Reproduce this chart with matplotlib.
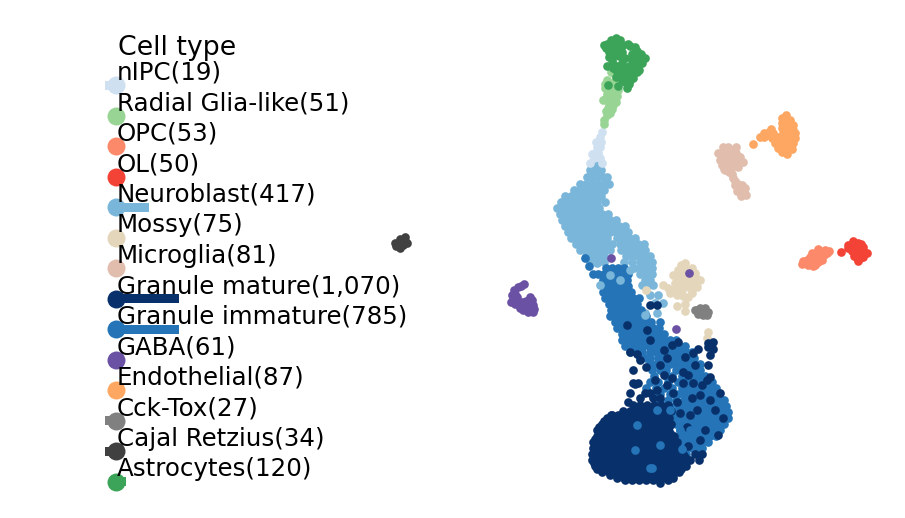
import matplotlib
matplotlib.use("Agg")
import matplotlib.pyplot as plt

cell_types = ["nIPC", "Radial Glia-like", "OPC", "OL", "Neuroblast", "Mossy", "Microglia",
              "Granule mature", "Granule immature", "GABA", "Endothelial", "Cck-Tox",
              "Cajal Retzius", "Astrocytes"]
cell_counts = [19, 51, 53, 50, 417, 75, 81, 1070, 785, 61, 87, 27, 34, 120]
cell_colors = ["#cfe0f1", "#98d594", "#fc8a6a", "#f34336", "#7ab6d9", "#e4d6bb", "#e0bdad",
               "#08306b", "#2474b7", "#6a51a3", "#fda762", "#808080", "#404040", "#3ba458"]

# embedding, x to the right, y downwards
astrocytes = [(607,44),(611,40),(616,38),(620,40),(606,48),(610,45),(615,44),(619,46),(623,45),(628,44),
              (609,52),(613,50),(618,50),(622,52),(630,46),(635,47),(609,57),(614,55),(619,56),(637,51),
              (641,54),(645,58),(625,58),(632,54),(636,57),(640,60),(637,64),(642,63),(607,66),(613,64),
              (618,66),(622,63),(629,70),(634,68),(639,70),(628,74),(633,74),(637,72),(625,82),(627,88),
              (630,80),(633,78),(616,77),(618,76),(623,76),(608,85),(618,86),(620,72),(616,70),(634,61),
              (629,66),(624,70),(626,78),(629,84),(612,60),(604,45),(641,58),(622,80),(613,68),(632,60)]
radial_glia = [(611,72),(607,80),(612,83),(605,88),(612,92),(618,90),(605,99),(611,100),(616,102),
               (608,108),(612,109),(607,115),(604,120),(604,124),(615,75),(610,88),(614,96),(607,94),
               (617,96),(609,104),(613,105),(606,111),(610,113),(603,100),(615,84),(605,84),(608,97)]
nipc = [(602,132),(600,137),(599,142),(597,147),(595,153),(598,153),(592,154),(597,157),(602,163),(590,163),
        (600,147),(596,142),(601,142),(594,158),(600,158)]
microglia = [(718,153),(723,147),(728,147),(736,147),(722,158),(727,153),(732,155),(740,157),(743,162),
             (738,167),(722,165),(727,162),(733,162),(725,170),(730,168),(733,178),(735,185),(742,185),
             (745,188),(737,191),(742,192),(746,195),(735,181),(723,152),(728,157),(735,159),(720,160),
             (724,169),(729,172),(734,166),(739,160),(731,150),(739,188),(744,191),(738,184),(741,196),
             (732,174),(736,153)]
endothelial = [(753,144),(760,137),(764,133),(771,129),(768,135),(772,138),(775,143),(778,148),(782,152),
               (787,154),(792,149),(786,115),(782,118),(790,120),(793,125),(785,125),(788,130),(795,133),
               (783,133),(778,137),(790,138),(785,142),(795,138),(778,143),(790,145),(783,147),(769,132),
               (782,123),(787,120),(790,126),(793,130),(785,136),(780,140),(788,148),(782,128),(786,151),
               (790,133),(773,133),(764,137),(793,143),(777,139)]
opc = [(825,250),(818,249),(812,253),(827,253),(820,257),(813,258),(807,260),(802,264),(808,265),(815,265),(822,260),
       (816,254),(821,252),(806,263),(811,262),(818,262),(824,255),(803,261),(810,257),(813,266),(829,251)]
ol = [(841,252),(853,241),(848,248),(858,243),(863,247),(867,253),(855,248),(860,252),(857,258),(863,257),(858,261),
      (851,245),(856,246),(861,244),(852,251),(856,253),(861,248),(864,252),(854,256),(860,258),(848,245)]
gaba = [(524,284),(518,287),(514,290),(512,295),(511,302),(517,297),(518,303),(520,308),(525,305),(530,297),
        (533,305),(528,312),(533,312),(523,310),(611,258),(689,273),(676,329),(521,286),(515,294),(513,299),
        (515,304),(522,302),(526,301),(530,302),(529,307),(524,308),(532,300),(534,309)]
cajal_retzius = [(405,237),(400,239),(395,243),(407,243),(400,248),(403,245),(403,240),(398,243),(396,246),
                 (405,241),(402,242),(399,246)]
cck_tox = [(695,310),(700,308),(705,308),(708,312),(698,314),(703,315),(707,315),(701,312),(697,310),(704,312)]
mossy = [(685,263),(678,270),(695,273),(700,280),(680,278),(687,280),(693,283),(675,283),(682,290),(690,288),
         (697,287),(663,285),(670,293),(677,295),(688,297),(677,306),(685,304),(685,311),(708,332),(707,338),
         (646,290),(687,270),(692,268),(673,275),(683,270),(690,276),(684,275),(696,278),(677,277),(686,285),
         (680,284),(692,293),(683,296),(668,288),(675,289),(694,278),(681,265)]

neuroblast_rows = [
    (164, [591, 598]), (170, [590, 595, 601]), (177, [587, 592, 597, 603, 607]),
    (184, [580, 586, 592, 598, 604, 609]), (190, [574, 580, 586, 592, 598, 604]),
    (196, [565, 571, 577, 583, 589, 595, 601]), (202, [561, 567, 573, 579, 585, 591, 597, 605]),
    (208, [557, 563, 569, 575, 581, 587, 593, 599]),
    (214, [560, 566, 572, 578, 584, 590, 596, 602, 608]),
    (220, [562, 568, 574, 580, 586, 592, 598, 604, 610, 616]),
    (226, [565, 571, 577, 583, 589, 595, 601, 607, 613, 619, 625]),
    (232, [568, 574, 580, 586, 592, 598, 604, 610, 616, 622, 628]),
    (238, [571, 577, 583, 589, 595, 601, 607, 617, 623, 629, 635]),
    (244, [576, 582, 588, 594, 600, 606, 612, 620, 626, 632, 638, 644]),
    (250, [580, 586, 592, 598, 604, 610, 621, 627, 633, 639, 645]),
    (256, [586, 592, 598, 604, 626, 632, 638, 644, 650]),
    (262, [590, 596, 604, 624, 632, 640, 646, 652]),
    (268, [634, 640, 646, 652]), (274, [640, 646, 652]), (280, [645, 650]),
    (285, [642, 648, 653]), (295, [650, 658]), (303, [663, 655]), (313, [657, 645]),
]
neuroblast_top = [(600,285),(620,280),(603,257),(597,263),(630,270),(645,315),(610,275)]

granule_immature_rows = [
    (258, [585]), (266, [589]), (268, [606, 612, 618, 624]), (274, [593, 598, 604, 610, 616, 622, 628]),
    (280, [603, 609, 615, 621, 627]), (286, [606, 612, 618, 624, 628]),
    (292, [603, 609, 615, 621, 627, 631]), (298, [605, 611, 617, 623, 629, 633, 639]),
    (304, [609, 615, 621, 627, 633, 637]), (310, [611, 617, 623, 629, 635, 641]),
    (316, [610, 616, 622, 628, 634, 640, 646]), (322, [615, 621, 627, 633, 639, 645, 651, 660]),
    (328, [617, 623, 629, 635, 641, 647, 653, 659]), (334, [622, 628, 634, 640, 646, 652, 658, 664]),
    (340, [622, 628, 634, 640, 646, 652, 658, 664, 670, 676]),
    (346, [625, 631, 637, 643, 649, 655, 661, 667, 673, 679, 685]),
    (352, [630, 636, 642, 650, 656, 662, 668, 674, 680, 686, 692]),
    (358, [640, 646, 650, 658, 664, 670, 676, 682, 688, 694]),
    (364, [650, 656, 664, 670, 676, 682, 688, 694, 700]),
    (370, [652, 660, 666, 676, 682, 688, 694, 700]),
    (376, [654, 666, 672, 682, 688, 694, 700, 705]),
    (382, [650, 658, 668, 678, 684, 690, 696, 702, 708, 712]),
    (388, [646, 656, 664, 672, 682, 688, 694, 700, 706, 712, 716]),
    (394, [652, 660, 670, 678, 684, 690, 696, 702, 708, 714, 719]),
    (400, [660, 668, 676, 684, 690, 696, 702, 708, 714, 720, 724]),
    (406, [670, 678, 684, 690, 696, 702, 708, 714, 720, 726]),
    (412, [674, 680, 686, 692, 698, 704, 710, 716, 722, 728]),
    (418, [670, 676, 682, 688, 694, 700, 706, 712, 718, 724, 728]),
    (424, [676, 682, 688, 694, 700, 706, 712, 718, 724]),
    (430, [680, 686, 692, 698, 704, 710, 716, 720]),
    (436, [680, 686, 692, 698, 704, 710, 716]), (442, [684, 690, 696, 702, 708]),
    (448, [680, 686, 692, 698, 702]), (454, [680, 686]),
]
granule_immature_top = [(657,410),(635,450),(660,445),(682,449),(670,410),(680,430),(650,468),(652,468),(637,425),(690,430)]

granule_mature_rows = [
    (383, [633, 638]), (393, [630, 645, 650]), (390, [657]), (398, [640, 653, 660]), (402, [628]),
    (405, [633, 640, 647, 654, 661, 668]), (411, [622.5, 629.5, 636.5, 643.5, 650.5, 664.5, 671]),
    (415, [611, 618, 625, 632, 639, 646, 653, 660, 667]),
    (418, [607, 614, 621, 628, 635, 642, 649, 656, 663, 669]),
    (421, [604, 611, 618, 625, 632, 639, 646, 653, 660, 667]),
    (424, [601.5, 608.5, 615.5, 622.5, 629.5, 636.5, 643.5, 650.5, 657.5, 664.5, 671]),
    (427, [599, 606, 613, 620, 627, 634, 641, 648, 655, 662, 669]),
    (430, [597, 604, 611, 618, 625, 632, 639, 646, 653, 660, 667]),
    (433, [600, 607, 614, 621, 628, 635, 642, 649, 656, 663, 670]),
    (436, [596.5, 603.5, 610.5, 617.5, 624.5, 631.5, 638.5, 645.5, 652.5, 659.5, 666.5, 673.5]),
    (439, [595, 602, 609, 616, 623, 630, 637, 644, 651, 658, 665, 672]),
    (442, [593, 600, 607, 614, 621, 628, 635, 642, 649, 656, 663, 670, 677]),
    (445, [596, 603, 610, 617, 624, 631, 638, 645, 652, 659, 666, 673]),
    (448, [592.5, 599.5, 606.5, 613.5, 620.5, 627.5, 634.5, 641.5, 648.5, 655.5, 662.5, 669.5, 676.5]),
    (451, [595, 602, 609, 616, 623, 630, 637, 644, 651, 658, 665, 672, 679]),
    (454, [592, 599, 606, 613, 620, 627, 634, 641, 648, 655, 662, 669, 676, 683, 702, 695]),
    (457, [594, 601, 608, 615, 622, 629, 636, 643, 650, 657, 664, 671, 678, 685]),
    (460, [591.5, 598.5, 605.5, 612.5, 619.5, 626.5, 633.5, 640.5, 647.5, 654.5, 661.5, 668.5, 675.5, 682.5, 689.5, 699]),
    (463, [594, 601, 608, 615, 622, 629, 636, 643, 650, 657, 664, 671, 678, 685]),
    (466, [595, 602, 609, 616, 623, 630, 637, 644, 651, 658, 665, 672, 679, 686]),
    (469, [597, 604, 611, 618, 625, 632, 639, 646, 653, 660, 667, 674, 681]),
    (472, [601.5, 608.5, 615.5, 622.5, 629.5, 636.5, 643.5, 650.5, 657.5, 664.5, 671.5, 678.5]),
    (475, [610, 617, 624, 631, 638, 645, 652, 659, 666, 673]),
    (478, [617, 624, 631, 638, 645, 652, 659, 666, 673]),
    (480, [625, 632, 639, 646, 653, 668]), (483, [660]),
]
granule_mature_scattered = [(627,325),(647,330),(637,354),(630,352),(667,358),(685,357),(698,349),(693,353),
                            (708,347),(713,342),(710,355),(708,365),(683,372),(710,377),(707,380),(633,370),
                            (646,367),(635,384),(667,385),(693,383),(702,385),(720,393),(710,400),(697,410),
                            (687,427),(705,430),(723,418),(690,415),(680,413),(673,393),(683,383),(650,305),
                            (657,305),(713,349),(708,343),(640,360),(655,380),(672,378),(692,398),(700,440),
                            (688,446),(677,402),(650,340),(664,350),(678,342),(612,415),(715,410),(700,395),
                            (688,375),(664,375),(695,365),(672,345),(718,435),(660,365)]


def rows_to_points(rows):
    return [(x, y) for y, xs in rows for x in xs]


def draw_cells(ax, points, color):
    xs = [p[0] for p in points]
    ys = [p[1] for p in points]
    ax.scatter(xs, ys, s=39, color=color, linewidths=0)


def draw_legend(ax):
    ax.text(118, 55, "Cell type", fontsize=19.3, va="baseline", ha="left", zorder=5)
    for i, (name, count, color) in enumerate(zip(cell_types, cell_counts, cell_colors)):
        y = 85 + i * 30.5
        # bar length saturates, the smallest groups poke out left of the dot
        left = 105 if count < 40 else 116
        right = 116 + 0.08 * min(count, 785)
        ax.barh(y, right - left, left=left, height=9, color=color, zorder=2)
        ax.scatter([116], [y], s=168, color=color, linewidths=0, zorder=3)
        ax.text(116.5, y - 5.3, f"{name}({count:,})", fontsize=17.65, va="baseline", ha="left", zorder=5)


fig = plt.figure(figsize=(9.05, 5.18), dpi=100)
ax = fig.add_axes([0, 0, 1, 1])
ax.set_xlim(0, 905)
ax.set_ylim(518, 0)
ax.axis("off")

# later groups sit on top, a few stragglers are drawn again over the dense part
draw_cells(ax, rows_to_points(neuroblast_rows), cell_colors[4])
draw_cells(ax, nipc, cell_colors[0])
draw_cells(ax, radial_glia, cell_colors[1])
draw_cells(ax, astrocytes, cell_colors[13])
draw_cells(ax, microglia, cell_colors[6])
draw_cells(ax, endothelial, cell_colors[10])
draw_cells(ax, opc, cell_colors[2])
draw_cells(ax, ol, cell_colors[3])
draw_cells(ax, cajal_retzius, cell_colors[12])
draw_cells(ax, cck_tox, cell_colors[11])
draw_cells(ax, rows_to_points(granule_immature_rows), cell_colors[8])
draw_cells(ax, neuroblast_top, cell_colors[4])
draw_cells(ax, mossy, cell_colors[5])
draw_cells(ax, rows_to_points(granule_mature_rows) + granule_mature_scattered, cell_colors[7])
draw_cells(ax, granule_immature_top, cell_colors[8])
draw_cells(ax, gaba, cell_colors[9])

draw_legend(ax)

fig.savefig("out.png", dpi=100)
